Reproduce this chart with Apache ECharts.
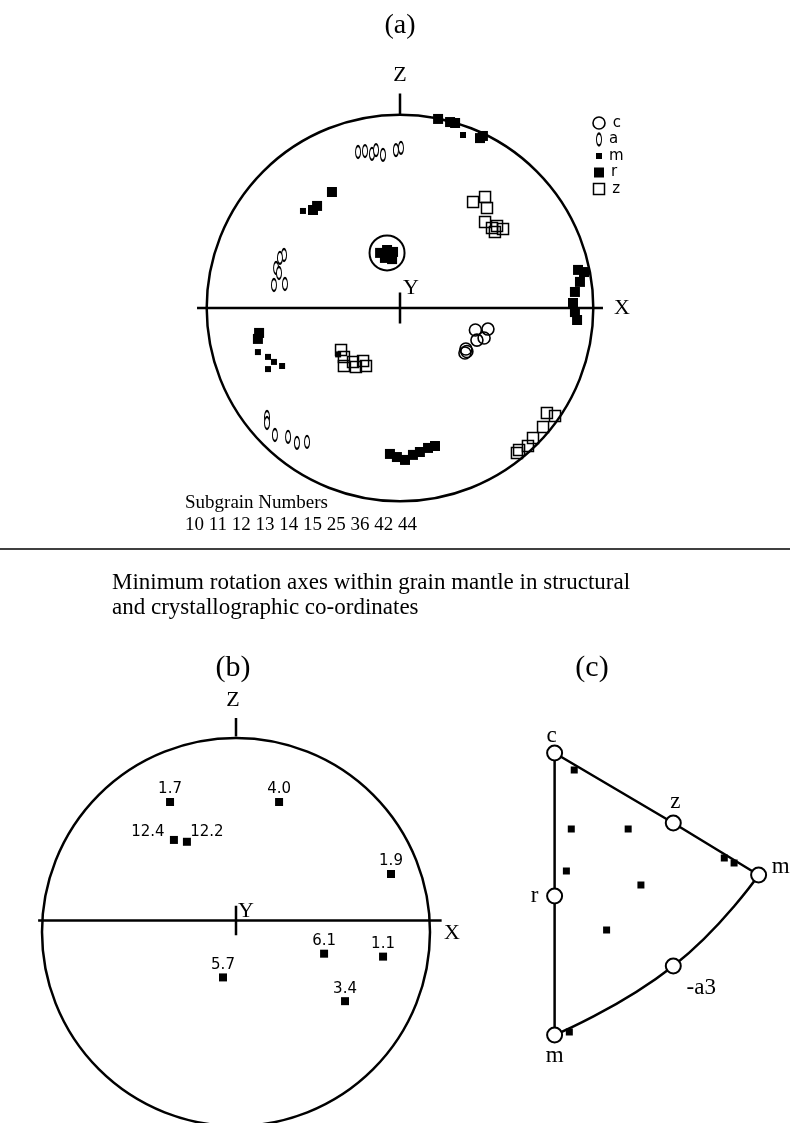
<!DOCTYPE html>
<html>
<head>
<meta charset="utf-8">
<script src="https://cdn.jsdelivr.net/npm/echarts@6/dist/echarts.min.js"></script>
<style>
  html, body { margin: 0; padding: 0; background: #fff; }
  #chart { width: 790px; height: 1123px; }
</style>
</head>
<body>
<div id="chart"></div>
<script>
// ---------- Panel (a): subgrain crystal axes, stereographic coords in % of primitive radius ----------
const axisC = [[39, -11.4], [45.5, -10.9], [43.5, -15.5], [39.8, -16.6], [34.1, -21.2], [33.6, -23.3], [34.6, -22.5]];
const axisA = [
  [-21.7, 80.7], [-18.1, 81.2], [-14.5, 79.7], [-12.4, 81.7], [-8.8, 79.2], [-2.1, 81.7], [0.5, 82.8],
  [-60, 27.4], [-62.1, 25.9], [-64.1, 20.7], [-62.6, 18.1], [-65.2, 11.9], [-59.5, 12.4],
  [-68.8, -56.4], [-68.8, -59.5], [-64.7, -65.7], [-57.9, -66.7], [-53.3, -69.8], [-48.1, -69.3]
];
const axisM = [[32.6, 89.5], [-50.2, 50.2], [-73.5, -22.8], [-68.3, -25.3], [-65.2, -27.9], [-61, -30], [-68.3, -31.6], [-32, -24]];
const axisR = [
  [19.7, 97.8], [25.9, 96.2], [28.5, 95.7], [41.4, 87.9], [42.9, 89],
  [-35.2, 60], [-42.9, 52.8], [-45, 50.7],
  [-10.3, 28.5], [-6.7, 30], [-3.6, 29], [-7.8, 25.9], [-4.1, 25.3],
  [92.1, 19.7], [95.2, 18.6], [93.1, 13.5], [90.5, 8.3], [89.5, 2.6], [90.5, -2.1], [91.6, -6.2],
  [-5.2, -75.5], [-1.6, -77.1], [2.6, -78.6], [6.7, -76], [10.3, -74.5], [14.5, -72.4], [18.1, -71.4],
  [-72.9, -12.9], [-73.5, -16]
];
const axisZ = [
  [37.8, 54.8], [44, 57.4], [45, 51.7], [44, 44.5], [47.6, 41.4], [50.2, 42.4], [53.3, 40.9], [49.1, 39.3],
  [76, -54.3], [80.2, -55.9], [74, -61.6], [68.8, -67.3], [66.2, -71.4], [61.6, -73.5], [60.5, -75],
  [-30.5, -21.7], [-29, -25.3], [-29, -30], [-24.3, -27.9], [-19.1, -27.4], [-17.6, -30], [-22.8, -30.5]
];
const ringedGroup = [[-6.7, 28.5]];
const axisKinds = ['c', 'a', 'm', 'r', 'z'];
const subgrainNumbers = ['10', '11', '12', '13', '14', '15', '25', '36', '42', '44'];

// ---------- Panel (b): minimum rotation axes (structural coords, % of radius) ----------
const rotationLabels = ['1.7', '4.0', '12.4', '12.2', '1.9', '6.1', '1.1', '5.7', '3.4'];
const rotationAxes = [[-34, 64.4], [22.2, 64.4], [-32, 43.8], [-25.3, 42.8], [79.9, 25.3], [45.4, -18], [75.8, -19.6], [-6.7, -30.9], [56.2, -43.8]];

// ---------- Panel (c): inverse pole figure (crystal coords) ----------
const ipfNames = ['c', 'z', 'm', 'r', 'm', '-a3'];
const ipfPoles = [[0, 0], [121, -70], [208, -122], [0, -143], [0, -282], [121, -213]];
const ipfAxes = [[20, -17], [17, -76], [75, -76], [12, -118], [88, -132], [53, -177], [173, -105], [183, -110], [15, -279]];

// ---------- styling ----------
const SERIF = '"Liberation Serif", "Times New Roman", serif';
const SANS = '"DejaVu Sans", sans-serif';
const INK = '#000';

const ellipse = 'path://M3,0 C4.7,0 6,2.7 6,6 C6,9.3 4.7,12 3,12 C1.3,12 0,9.3 0,6 C0,2.7 1.3,0 3,0 Z';
const kindStyle = {
  c: { symbol: 'circle', symbolSize: 12, itemStyle: { color: 'rgba(0,0,0,0)', borderColor: INK, borderWidth: 1.6, opacity: 1 } },
  a: { symbol: ellipse, symbolSize: [5, 12], itemStyle: { color: '#fff', borderColor: INK, borderWidth: 1.5, opacity: 1 } },
  m: { symbol: 'rect', symbolSize: 6, itemStyle: { color: INK, opacity: 1 } },
  r: { symbol: 'rect', symbolSize: 10, itemStyle: { color: INK, opacity: 1 } },
  z: { symbol: 'rect', symbolSize: 11, itemStyle: { color: 'rgba(0,0,0,0)', borderColor: INK, borderWidth: 1.5, opacity: 1 } }
};
const kindData = { c: axisC, a: axisA, m: axisM, r: axisR, z: axisZ };

// frame segments (primitive diameters and pole ticks), % of radius
const frameA = [[[-105, 0], [105, 0]], [[0, -8], [0, 8]], [[0, 100], [0, 111]]];
const frameB = [[[-102, 0], [106, 0]], [[0, -8], [0, 8]], [[0, 100], [0, 110]]];

// pixel layout of each net
const netA = { cx: 400, cy: 308, k: 1.933 };
const netB = { cx: 236, cy: 932, k: 1.94 };
function netGrid(n) {
  return { left: n.cx - 110 * n.k, width: 220 * n.k, top: n.cy - 115 * n.k, height: 225 * n.k };
}

function hiddenValueAxis(idx, min, max, extra) {
  return Object.assign({ type: 'value', gridIndex: idx, min, max, show: false }, extra || {});
}

function segmentSeries(segs, g, width) {
  return segs.map(s => ({
    type: 'line', xAxisIndex: g, yAxisIndex: g, data: s, symbol: 'none', clip: false, silent: true,
    lineStyle: { color: INK, width: width }, z: 3
  }));
}

const series = [];
// panel (a) frame
series.push(...segmentSeries(frameA, 0, 2.5));
// panel (a) crystal axes
['r', 'm', 'a', 'z', 'c'].forEach(kind => {
  series.push(Object.assign({
    type: 'scatter', name: kind, xAxisIndex: 0, yAxisIndex: 0, data: kindData[kind], clip: false, z: 4
  }, kindStyle[kind]));
});
series.push({
  type: 'scatter', xAxisIndex: 0, yAxisIndex: 0, data: ringedGroup, symbol: 'circle', symbolSize: 35, clip: false, z: 5,
  itemStyle: { color: 'rgba(0,0,0,0)', borderColor: INK, borderWidth: 2, opacity: 1 }
});
// key for panel (a)
axisKinds.forEach((kind, i) => {
  series.push(Object.assign({
    type: 'scatter', xAxisIndex: 1, yAxisIndex: 1, data: [[0, i]], clip: false,
    label: { show: true, position: 'right', distance: 7, formatter: kind, fontFamily: SANS, fontSize: 15, color: INK }
  }, kindStyle[kind]));
});
// panel (b) frame
series.push(...segmentSeries(frameB, 2, 2.5));
// panel (b) rotation axes
const labelShift = { '12.4': [-26, 5], '12.2': [20, 3] };
series.push({
  type: 'scatter', xAxisIndex: 2, yAxisIndex: 2, symbol: 'rect', symbolSize: 8, clip: false,
  itemStyle: { color: INK, opacity: 1 },
  data: rotationAxes.map((p, i) => ({
    value: p, name: rotationLabels[i],
    label: { offset: labelShift[rotationLabels[i]] || [0, 0] }
  })),
  label: { show: true, position: 'top', distance: 1, formatter: '{b}', fontFamily: SANS, fontSize: 15, color: INK }
});
// panel (c) boundary
const P = ipfPoles;
const edgeStyle = { color: INK, width: 2.5 };
series.push({ type: 'line', xAxisIndex: 3, yAxisIndex: 3, data: [P[0], P[3], P[4]], symbol: 'none', clip: false, lineStyle: edgeStyle });
series.push({ type: 'line', xAxisIndex: 3, yAxisIndex: 3, data: [P[0], P[1], P[2]], symbol: 'none', clip: false, lineStyle: edgeStyle });
series.push({ type: 'line', xAxisIndex: 3, yAxisIndex: 3, data: [P[2], P[5], P[4]], symbol: 'none', smooth: 0.5, clip: false, lineStyle: edgeStyle });
series.push({
  type: 'scatter', xAxisIndex: 3, yAxisIndex: 3, symbol: 'rect', symbolSize: 7, clip: false, z: 3,
  itemStyle: { color: INK, opacity: 1 }, data: ipfAxes
});
const poleLabelShift = { 0: [-3, -17], 1: [2, -21], 2: [22, -8], 3: [-20, 0], 4: [0, 21], 5: [28, 22] };
series.push({
  type: 'scatter', xAxisIndex: 3, yAxisIndex: 3, symbol: 'circle', symbolSize: 15, clip: false, z: 5,
  itemStyle: { color: '#fff', borderColor: INK, borderWidth: 2, opacity: 1 },
  data: ipfPoles.map((p, i) => ({ value: p, name: ipfNames[i], label: { offset: poleLabelShift[i] } })),
  label: { show: true, position: 'inside', formatter: '{b}', fontFamily: SERIF, fontSize: 23, color: INK }
});

function txt(x, y, text, size, align, family) {
  return {
    type: 'text', x, y, silent: true,
    style: {
      text, font: size + 'px ' + (family || SERIF), fill: INK,
      align: align || 'center', verticalAlign: 'middle',
      textAlign: align || 'center', textVerticalAlign: 'middle'
    }
  };
}

const option = {
  backgroundColor: '#fff',
  animation: false,
  grid: [
    Object.assign({}, netGrid(netA)),
    { left: 589, top: 123, width: 20, height: 66 },
    Object.assign({}, netGrid(netB)),
    { left: 535, top: 733, width: 260, height: 320 }
  ],
  xAxis: [
    hiddenValueAxis(0, -110, 110),
    hiddenValueAxis(1, -1, 1),
    hiddenValueAxis(2, -110, 110),
    hiddenValueAxis(3, -20, 240)
  ],
  yAxis: [
    hiddenValueAxis(0, -110, 115),
    hiddenValueAxis(1, 0, 4, { inverse: true }),
    hiddenValueAxis(2, -110, 115),
    hiddenValueAxis(3, -300, 20)
  ],
  // primitive circles of the two nets
  polar: [
    { center: [netA.cx, netA.cy], radius: 100 * netA.k },
    { center: [netB.cx, netB.cy], radius: 100 * netB.k }
  ],
  angleAxis: [0, 1].map(i => ({
    polarIndex: i, type: 'value', min: 0, max: 360, silent: true,
    axisLine: { show: true, lineStyle: { color: INK, width: 2.5 } },
    axisTick: { show: false }, axisLabel: { show: false }, splitLine: { show: false }
  })),
  radiusAxis: [0, 1].map(i => ({ polarIndex: i, type: 'value', min: 0, max: 100, show: false, splitLine: { show: false } })),
  series,
  graphic: [
    txt(400, 26, '(a)', 28),
    txt(400, 75, 'Z', 22),
    txt(411, 288, 'Y', 22),
    txt(622, 308, 'X', 22),
    txt(185, 503, 'Subgrain Numbers', 19, 'left'),
    txt(185, 525, subgrainNumbers.join(' '), 19, 'left'),
    { type: 'line', silent: true, shape: { x1: 0, y1: 549, x2: 790, y2: 549 }, style: { stroke: INK, lineWidth: 1.5 } },
    txt(112, 583, 'Minimum rotation axes within grain mantle in structural', 23, 'left'),
    txt(112, 608, 'and crystallographic co-ordinates', 23, 'left'),
    txt(233, 668, '(b)', 30),
    txt(592, 668, '(c)', 30),
    txt(233, 700, 'Z', 22),
    txt(246, 911, 'Y', 22),
    txt(452, 933, 'X', 22)
  ]
};

const chart = echarts.init(document.getElementById('chart'), null, { renderer: 'canvas' });
chart.setOption(option);
</script>
</body>
</html>
